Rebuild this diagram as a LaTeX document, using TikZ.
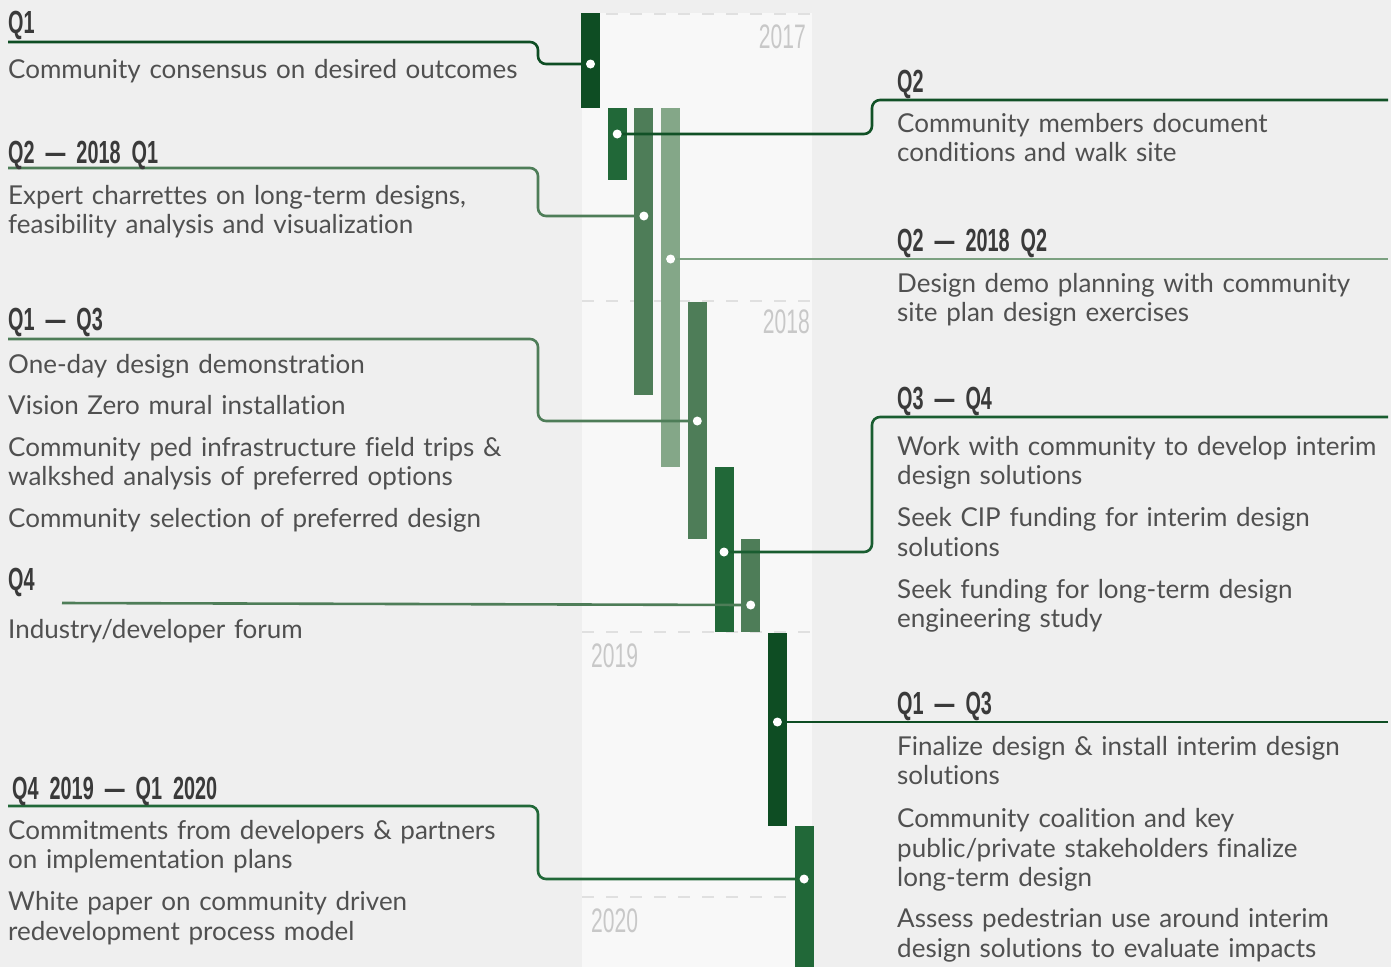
\documentclass[tikz,border=0pt]{standalone}
\usepackage{fontspec}
\setmainfont{Lato}[Ligatures=NoCommon]
\newfontfamily\condfont[FakeStretch=0.62]{Liberation Sans}
\usetikzlibrary{calc,positioning}
\definecolor{pageGrey}{RGB}{239,239,239}
\definecolor{bandGrey}{RGB}{248,248,248}
\definecolor{yearGrey}{RGB}{200,200,200}
\definecolor{dashGrey}{RGB}{224,224,224}
\definecolor{headGrey}{RGB}{58,58,58}
\definecolor{bodyGrey}{RGB}{80,80,80}
\definecolor{greenDark}{RGB}{14,77,35}
\definecolor{greenMain}{RGB}{33,104,56}
\definecolor{greenMid}{RGB}{78,125,88}
\definecolor{greenLight}{RGB}{132,167,136}
\newcommand{\headfont}{\condfont\bfseries\fontsize{32}{36}\selectfont\spaceskip=11pt\relax}

\tikzset{
  bar/.style={rectangle,inner sep=0pt,minimum width=19pt,anchor=north},
  dot/.style={circle,fill=white,inner sep=0pt,minimum size=9pt},
  link/.style={line width=2.6pt,rounded corners=8pt},
  head/.style={anchor=base west,inner sep=0pt,text=headGrey,font=\headfont},
  body/.style={anchor=base west,inner sep=0pt,text=bodyGrey,text width=#1,align=left,font=\fontsize{26}{29.5}\selectfont},
  body/.default=520pt,
  year/.style={inner sep=0pt,text=yearGrey,font=\condfont\fontsize{34}{38}\selectfont}
}

\begin{document}
\begin{tikzpicture}[x=1pt,y=-1pt]
\useasboundingbox (0,0) rectangle (1391,967);
\fill[pageGrey] (0,0) rectangle (1391,967);
\fill[bandGrey] (582,13) rectangle (812,967);
\foreach \yy in {14,301,632,897}
  \draw[dashGrey,line width=1.5pt,dash pattern=on 12pt off 12pt] (582,\yy) -- (812,\yy);

% year labels
\node[year,anchor=base east] (y17) at (806,48) {2017};
\node[year,anchor=base east] (y18) at (810,333) {2018};
\node[year,anchor=base west] (y19) at (591,667) {2019};
\node[year,anchor=base west] (y20) at (591,932) {2020};

% bars
\node[bar,fill=greenDark,minimum height=95pt] (b1) at (590.5,13) {};
\node[bar,fill=greenMain,minimum height=72pt] (b2) at (617.2,108) {};
\node[bar,fill=greenMid,minimum height=287pt] (b3) at (643.9,108) {};
\node[bar,fill=greenLight,minimum height=359pt] (b4) at (670.6,108) {};
\node[bar,fill=greenMid,minimum height=237pt] (b5) at (697.3,302) {};
\node[bar,fill=greenMain,minimum height=165pt] (b6) at (724,467) {};
\node[bar,fill=greenMid,minimum height=93pt] (b7) at (750.7,539) {};
\node[bar,fill=greenDark,minimum height=193pt] (b8) at (777.4,633) {};
\node[bar,fill=greenMain,minimum height=141pt] (b9) at (804.1,826) {};

% dot centres
\coordinate (d1) at (590.5,64);
\coordinate (d2) at (617.2,134);
\coordinate (d3) at (643.9,216);
\coordinate (d4) at (670.6,259);
\coordinate (d5) at (697.3,421);
\coordinate (d6) at (724,552);
\coordinate (d7) at (750.7,605);
\coordinate (d8) at (777.4,722);
\coordinate (d9) at (804.1,879);

% free ends of the links
\coordinate (e1) at (8,42);
\coordinate (e2) at (1388,100);
\coordinate (e3) at (8,168);
\coordinate (e4) at (1388,259);
\coordinate (e5) at (8,339);
\coordinate (e6) at (1388,417);
\coordinate (e7) at (62,603);
\coordinate (e8) at (1388,722);
\coordinate (e9) at (8,806);

% links
\draw[link,greenDark] (e1) -- (538,42) -- (538,64) -- (d1);
\draw[link,greenDark!85!greenMain] (d2) -- (872,134) -- (872,100) -- (e2);
\draw[link,greenMid] (e3) -- (538,168) -- (538,216) -- (d3);
\draw[link,greenLight!85!greenMid] (d4) -- (e4);
\draw[link,greenMid] (e5) -- (538,339) -- (538,421) -- (d5);
\draw[link,greenMain!60!greenDark] (d6) -- (872,552) -- (872,417) -- (e6);
\draw[link,greenMid] (e7) -- (d7);
\draw[link,greenDark] (d8) -- (e8);
\draw[link,greenMain] (e9) -- (538,806) -- (538,879) -- (d9);

\foreach \i in {1,...,9}
  \node[dot] (p\i) at (d\i) {};

% left column
\node[head] (h1) at (8,33) {Q1};
\node[body] (t1) at (8,78) {Community consensus on desired outcomes};
\node[head] (h3) at (8,163) {Q2 — 2018 Q1};
\node[body] (t3) at (8,204) {Expert charrettes on long-term designs,\\
  feasibility analysis and visualization};
\node[head] (h5) at (8,330) {Q1 — Q3};
\node[body] (t5) at (8,373) {One-day design demonstration\\[11.5pt]
  Vision Zero mural installation\\[12.5pt]
  Community ped infrastructure field trips \&\\
  walkshed analysis of preferred options\\[12.5pt]
  Community selection of preferred design};
\node[head] (h7) at (8,590) {Q4};
\node[body] (t7) at (8,638) {Industry/developer forum};
\node[head] (h9) at (12,799) {Q4 2019 — Q1 2020};
\node[body] (t9) at (8,839) {Commitments from developers \& partners\\
  on implementation plans\\[12.5pt]
  White paper on community driven\\
  redevelopment process model};

% right column
\node[head] (h2) at (897,92) {Q2};
\node[body=480pt] (t2) at (897,132) {Community members document\\
  conditions and walk site};
\node[head] (h4) at (897,251) {Q2 — 2018 Q2};
\node[body=480pt] (t4) at (897,292) {Design demo planning with community\\
  site plan design exercises};
\node[head] (h6) at (897,409) {Q3 — Q4};
\node[body=480pt] (t6) at (897,455) {Work with community to develop interim\\
  design solutions\\[12.5pt]
  Seek CIP funding for interim design\\
  solutions\\[12.5pt]
  Seek funding for long-term design\\
  engineering study};
\node[head] (h8) at (897,714) {Q1 — Q3};
\node[body=480pt] (t8) at (897,755) {Finalize design \& install interim design\\
  solutions\\[13.5pt]
  Community coalition and key\\
  public/private stakeholders finalize\\
  long-term design\\[11.5pt]
  Assess pedestrian use around interim\\
  design solutions to evaluate impacts};
\end{tikzpicture}
\end{document}
